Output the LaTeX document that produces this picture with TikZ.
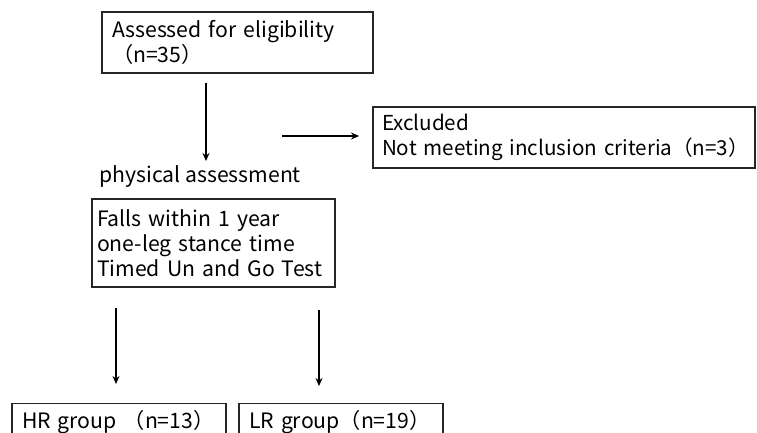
\documentclass[tikz,border=0pt]{standalone}
\usepackage{fontspec}
\setmainfont{Noto Sans CJK JP}
\usetikzlibrary{arrows.meta}
\tikzset{
  box/.style={draw=black!85, line width=1.3pt, rectangle, align=left, inner ysep=0pt,
    font=\fontsize{21.2}{25}\selectfont},
  arr/.style={line width=2.1pt, -{Stealth[length=8pt,width=7pt]}},
  lbl/.style={font=\fontsize{21.2}{25}\selectfont, inner sep=0pt},
  grp/.style={box, anchor=north, text height=14pt, text depth=4pt, inner ysep=11pt, inner xsep=10pt}
}
\begin{document}
\begin{tikzpicture}[x=1pt,y=-1pt]
\useasboundingbox (0,0) rectangle (757,433);
\clip (0,0) rectangle (757,433);
\fill[white] (0,0) rectangle (757,433);
\node[box, minimum width=271pt, minimum height=61pt, text width=251pt, inner xsep=10pt] (elig) at (237.5,42.5)
  {\mbox{Assessed for eligibility}\\\mbox{（n=35）}};
\node[box, font=\fontsize{20.6}{25}\selectfont, minimum width=382pt, minimum height=61pt, text width=372pt, inner xsep=5pt] (excl) at (564,137.5)
  {\hspace*{4pt}\mbox{Excluded}\\\hspace*{4pt}\mbox{Not meeting inclusion criteria（n=3）}};
\node[lbl, anchor=west] (phys) at (99,177) {physical assessment};
\node[box, minimum width=243pt, minimum height=88pt, text width=233pt, inner xsep=5pt] (falls) at (213.5,243)
  {\mbox{Falls within 1 year}\\\mbox{one-leg stance time}\\\mbox{Timed Un and Go Test}};
\node[grp, text width=194pt] (hr) at (119,403) {\mbox{HR group （n=13）}};
\node[grp, text width=184pt] (lr) at (341,403) {\mbox{LR group（n=19）}};
\coordinate (a1s) at (206,83);
\coordinate (a1e) at (206,161);
\coordinate (hs) at (282,136);
\coordinate (he) at (359,136);
\coordinate (b1s) at (116,308);
\coordinate (b1e) at (116,384);
\coordinate (b2s) at (319,310);
\coordinate (b2e) at (319,386);
\draw[arr] (a1s) -- (a1e);
\draw[arr] (hs) -- (he);
\draw[arr] (b1s) -- (b1e);
\draw[arr] (b2s) -- (b2e);
\end{tikzpicture}
\end{document}
